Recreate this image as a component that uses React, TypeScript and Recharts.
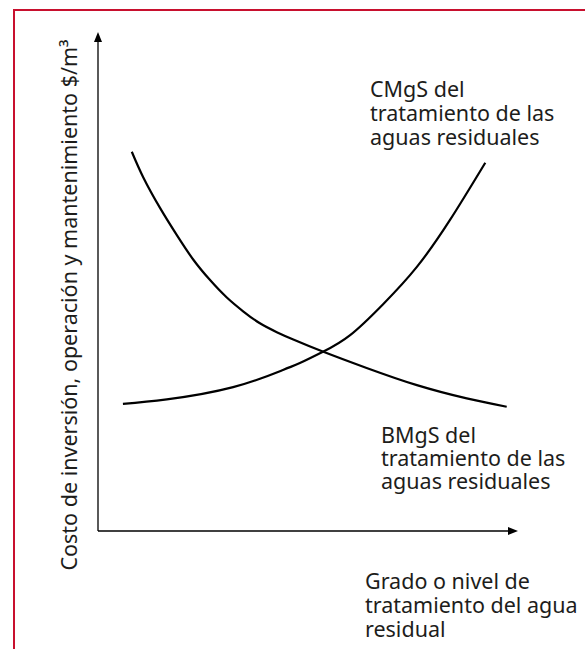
import React from "react";
import { LineChart, Line, XAxis, YAxis } from "recharts";

// BMgS (decreasing) curve
const bmgsX = [8.2, 11.0, 15.05, 19.1, 23.1, 27.2, 31.2, 35.3, 39.3, 43.4, 47.4, 54.7, 65.2, 77.4, 89.5, 99.2];
const bmgsY = [77.25, 72.0, 65.8, 60.3, 55.3, 51.1, 47.6, 44.7, 42.3, 40.5, 39.0, 36.5, 33.2, 29.7, 27.0, 25.3];

// CMgS (increasing) curve
const cmgsX = [6.05, 16.7, 32.8, 44.9, 49.0, 54.6, 61.2, 69.2, 77.4, 85.4, 94.0];
const cmgsY = [25.9, 26.8, 29.3, 32.8, 34.2, 36.5, 39.9, 46.2, 53.8, 63.3, 75.0];

const yAxisLabel = "Costo de inversión, operación y mantenimiento $/m³";
const xAxisLabelLines = ["Grado o nivel de", "tratamiento del agua", "residual"];
const cmgsLabelLines = ["CMgS del", "tratamiento de las", "aguas residuales"];
const bmgsLabelLines = ["BMgS del", "tratamiento de las", "aguas residuales"];

const bmgsData = bmgsX.map((x, i) => ({ x, y: bmgsY[i] }));
const cmgsData = cmgsX.map((x, i) => ({ x, y: cmgsY[i] }));

const FONT = "'Noto Sans', sans-serif";
const TEXT_COLOR = "#1d1d1b";
const FS = 21.5;

function MultiLine({ lines, x, y, step }: { lines: string[]; x: number; y: number; step: number }) {
  return (
    <text x={x} y={y} fontFamily={FONT} fontSize={FS} fill={TEXT_COLOR}>
      {lines.map((l, i) => (
        <tspan key={i} x={x} y={y + i * step}>
          {l}
        </tspan>
      ))}
    </text>
  );
}

export default function App() {
  return (
    <div style={{ position: "absolute", left: 0, top: 0, width: 585, height: 649, background: "#fff", overflow: "hidden" }}>
      <div
        style={{
          position: "absolute",
          left: 13,
          top: 9,
          width: 600,
          height: 700,
          borderTop: "2.5px solid #c8102e",
          borderLeft: "2.5px solid #c8102e",
          boxSizing: "border-box",
        }}
      />
      <div style={{ position: "absolute", left: 0, top: 0 }}>
        <LineChart width={585} height={649} margin={{ top: 40, right: 75, bottom: 117, left: 97 }}>
          <defs>
            <marker
              id="arrowHead"
              viewBox="0 0 10 8"
              refX={2}
              refY={4}
              markerWidth={10}
              markerHeight={8}
              markerUnits="userSpaceOnUse"
              orient="auto-start-reverse"
            >
              <path d="M0,0 L10,4 L0,8 z" fill="#000" />
            </marker>
          </defs>
          <XAxis
            dataKey="x"
            type="number"
            domain={[0, 100]}
            allowDataOverflow
            tick={false}
            tickLine={false}
            height={1}
            axisLine={{ stroke: "#000", strokeWidth: 1.3, markerEnd: "url(#arrowHead)" } as any}
          />
          <YAxis
            dataKey="y"
            type="number"
            domain={[0, 100]}
            allowDataOverflow
            tick={false}
            tickLine={false}
            width={1}
            axisLine={{ stroke: "#000", strokeWidth: 1.3, markerStart: "url(#arrowHead)" } as any}
          />
          <Line
            data={bmgsData}
            dataKey="y"
            type="natural"
            stroke="#000"
            strokeWidth={2.2}
            dot={false}
            activeDot={false}
            isAnimationActive={false}
          />
          <Line
            data={cmgsData}
            dataKey="y"
            type="natural"
            stroke="#000"
            strokeWidth={2.2}
            dot={false}
            activeDot={false}
            isAnimationActive={false}
          />
          <text
            transform="translate(77,305) rotate(-90)"
            textAnchor="middle"
            fontFamily={FONT}
            fontSize={FS}
            fill={TEXT_COLOR}
          >
            {yAxisLabel}
          </text>
          <MultiLine lines={cmgsLabelLines} x={370} y={97} step={24} />
          <MultiLine lines={bmgsLabelLines} x={381} y={443} step={23} />
          <MultiLine lines={xAxisLabelLines} x={365} y={589} step={24} />
        </LineChart>
      </div>
    </div>
  );
}
